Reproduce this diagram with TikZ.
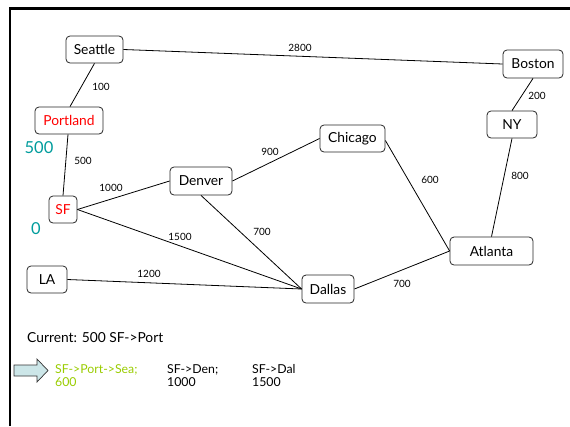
\documentclass[tikz,border=0pt]{standalone}
\usepackage{fontspec}
\setmainfont{Lato}
\definecolor{teal5}{HTML}{009C9C}
\definecolor{limeg}{HTML}{99CC00}
\definecolor{arrowfill}{HTML}{CCE6E8}
\begin{document}
\begin{tikzpicture}[x=1pt,y=-1pt,
  city/.style={draw=black!85, line width=0.8pt, rounded corners=4pt, inner sep=0pt, font=\fontsize{13.8}{15}\selectfont},
  road/.style={draw=black, line width=0.8pt},
  lbl/.style={inner sep=0pt, font=\fontsize{10}{11}\selectfont},
  big/.style={inner sep=0pt, text=teal5, font=\fontsize{16.5}{18}\selectfont},
  txt/.style={inner sep=0pt, anchor=west, font=\fontsize{12.3}{15}\selectfont, align=left}]
\useasboundingbox (0,0) rectangle (570,426);
% frame
\draw[line width=2.6pt] (10,426) -- (10,8.5) -- (570,8.5);
% cities
\node[city, minimum width=57, minimum height=27] (sea) at (94.5,49.5) {Seattle};
\node[city, minimum width=68, minimum height=27, text=red] (por) at (69,120.5) {Portland};
\node[city, minimum width=28, minimum height=27, text=red] (sf) at (63,209.5) {SF};
\node[city, minimum width=62, minimum height=28] (den) at (201,181) {Denver};
\node[city, minimum width=65, minimum height=27] (chi) at (352.5,138.5) {Chicago};
\node[city, minimum width=60, minimum height=28] (bos) at (533,64) {Boston};
\node[city, minimum width=50, minimum height=27] (ny) at (512,124.5) {NY};
\node[city, minimum width=83, minimum height=28] (atl) at (491.5,251) {Atlanta};
\node[city, minimum width=52, minimum height=28] (dal) at (328,289) {Dallas};
\node[city, minimum width=40, minimum height=27] (la) at (47,279.5) {LA};
% roads
\draw[road] (sea.east) -- (bos.west);
\draw[road] (sea.south) -- ([xshift=1pt]por.north);
\draw[road] ([xshift=-1pt]por.south) -- (sf.north);
\draw[road] (sf.east) -- (den.west);
\draw[road] (sf.east) -- (dal.west);
\draw[road] (den.south) -- (dal.west);
\draw[road] (la.east) -- (dal.west);
\draw[road] (den.east) -- (chi.west);
\draw[road] ([yshift=-2pt]chi.east) -- (atl.west);
\draw[road] (dal.east) -- (atl.west);
\draw[road] (bos.south) -- (ny.north);
\draw[road] (ny.south) -- (atl.north);
% road labels
\node[lbl] (l2800) at (300,47.5) {2800};
\node[lbl] (l100) at (101,87) {100};
\node[lbl] (l500) at (83,161) {500};
\node[lbl] (l1000) at (111,188) {1000};
\node[lbl] (l1500) at (180,237) {1500};
\node[lbl] (l900) at (270,152) {900};
\node[lbl] (l700a) at (262,232) {700};
\node[lbl] (l600) at (430,180) {600};
\node[lbl] (l200) at (537,96) {200};
\node[lbl] (l800) at (520,175.5) {800};
\node[lbl] (l1200) at (149,273.5) {1200};
\node[lbl] (l700b) at (402,284) {700};
% distances
\node[big] (d500) at (39,148) {500};
\node[big] (d0) at (36,228.5) {0};
% bottom text
\node[txt, font=\fontsize{13.8}{15}\selectfont] (cur) at (27,338) {Current: 500 SF->Port};
\draw[draw=black!80, fill=arrowfill, line width=0.7pt] (14,365) -- (37,365) -- (37,359) -- (48,370.5) -- (37,382) -- (37,376) -- (14,376) -- cycle;
\node[txt, text=limeg] (c1) at (55,375.5) {SF->Port->Sea;\\[-1.5pt]600};
\node[txt] (c2) at (167,375.5) {SF->Den;\\[-1.5pt]1000};
\node[txt] (c3) at (252,375.5) {SF->Dal\\[-1.5pt]1500};
\end{tikzpicture}
\end{document}
